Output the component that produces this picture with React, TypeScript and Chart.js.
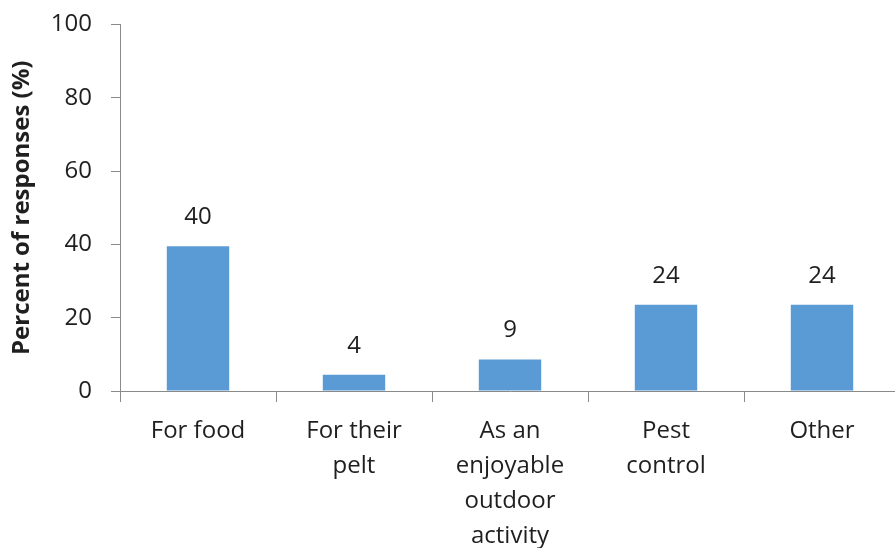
import React, { useEffect, useRef } from "react";
import { Chart, registerables } from "chart.js";

Chart.register(...registerables);

const categories: string[][] = [
  ["For food"],
  ["For their", "pelt"],
  ["As an", "enjoyable", "outdoor", "activity"],
  ["Pest", "control"],
  ["Other"],
];
const percentValues: number[] = [39.5, 4.4, 8.6, 23.5, 23.5];
const valueLabels: string[] = ["40", "4", "9", "24", "24"];
const yTicks: number[] = [0, 20, 40, 60, 80, 100];

const FONT = "'Open Sans', sans-serif";
const AXIS_GRAY = "#8a8a8a";
const TEXT = "#1f1f1f";

const valueLabelPlugin = {
  id: "valueLabels",
  afterDatasetsDraw(chart: any) {
    const ctx = chart.ctx;
    const meta = chart.getDatasetMeta(0);
    ctx.save();
    ctx.font = `24px ${FONT}`;
    ctx.fillStyle = TEXT;
    ctx.textAlign = "center";
    ctx.textBaseline = "middle";
    meta.data.forEach((bar: any, i: number) => {
      ctx.fillText(valueLabels[i], bar.x, bar.y - 29);
    });
    ctx.restore();
  },
};

export default function App() {
  const canvasRef = useRef<HTMLCanvasElement | null>(null);

  useEffect(() => {
    document.body.style.margin = "0";
    const canvas = canvasRef.current;
    if (!canvas) return;
    const chart = new Chart(canvas, {
      type: "bar",
      data: {
        labels: categories,
        datasets: [
          {
            data: percentValues,
            backgroundColor: "#5b9bd5",
            borderWidth: 0,
            categoryPercentage: 1,
            barPercentage: 0.4,
          },
        ],
      },
      options: {
        responsive: false,
        animation: false,
        devicePixelRatio: 1,
        layout: { padding: { top: 24.5, left: 0, right: 0, bottom: 0 } },
        plugins: {
          legend: { display: false },
          tooltip: { enabled: false },
        },
        scales: {
          x: {
            offset: true,
            afterFit: (scale: any) => {
              scale.height = 157;
              scale.paddingLeft = 0;
              scale.paddingRight = 0;
            },
            grid: {
              offset: true,
              drawOnChartArea: false,
              drawTicks: true,
              tickLength: 11,
              color: AXIS_GRAY,
              lineWidth: 1,
            },
            border: { display: true, color: AXIS_GRAY, width: 1 },
            ticks: {
              color: TEXT,
              padding: 12,
              maxRotation: 0,
              minRotation: 0,
              autoSkip: false,
              font: { family: FONT, size: 24, lineHeight: 1.46 },
            },
          },
          y: {
            min: 0,
            max: 100,
            afterFit: (scale: any) => {
              scale.width = 120;
              scale.paddingTop = 0;
              scale.paddingBottom = 0;
            },
            afterBuildTicks: (scale: any) => {
              scale.ticks = yTicks.map((v) => ({ value: v }));
            },
            grid: {
              drawOnChartArea: false,
              drawTicks: true,
              tickLength: 9,
              color: AXIS_GRAY,
              lineWidth: 1,
            },
            border: { display: true, color: AXIS_GRAY, width: 1 },
            ticks: {
              color: TEXT,
              padding: 19,
              font: { family: FONT, size: 24 },
            },
            title: {
              display: true,
              text: "Percent of responses (%)",
              color: TEXT,
              padding: { top: 8, bottom: 0 },
              font: { family: FONT, size: 24, weight: "bold", lineHeight: 1.2 },
            },
          },
        },
      },
      plugins: [valueLabelPlugin],
    });
    return () => chart.destroy();
  }, []);

  return (
    <div style={{ width: 895, height: 548, overflow: "hidden", background: "#fff" }}>
      <canvas ref={canvasRef} width={900} height={548} style={{ display: "block" }} />
    </div>
  );
}
